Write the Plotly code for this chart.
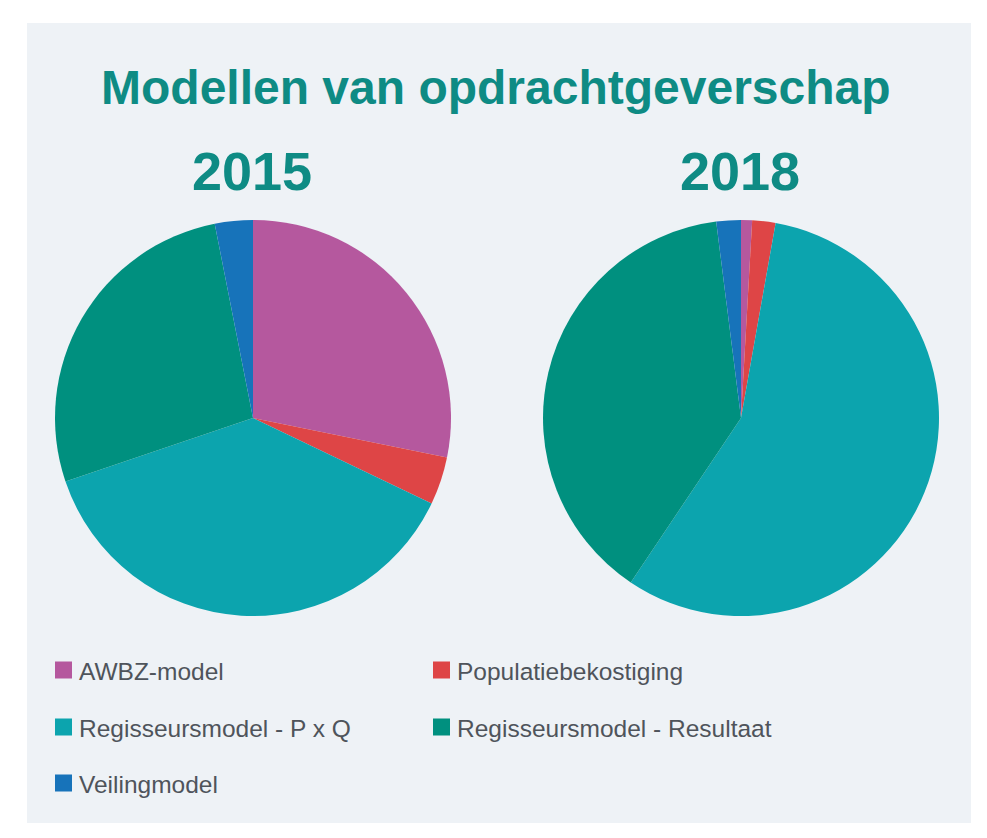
import plotly.graph_objects as go

# Data
labels = ["AWBZ-model", "Populatiebekostiging", "Regisseursmodel - P x Q",
          "Regisseursmodel - Resultaat", "Veilingmodel"]
values_2015 = [28.2, 3.9, 37.7, 27.1, 3.1]
values_2018 = [0.9, 1.9, 56.6, 38.6, 2.0]
years = ["2015", "2018"]
colors = ["#B5589E", "#DE4546", "#0CA4AE", "#00907F", "#1773BA"]

OFF = 8  # page body margin
W, H = 987 - 2 * OFF, 838 - 2 * OFF
TEAL = "#0E8B84"
TEXT = "#4F545B"
FONT = "Liberation Sans, Arial, sans-serif"

def px_x(x):
    return (x - OFF) / W

def px_y(y):
    return 1 - (y - OFF) / H

fig = go.Figure()

pie_centers = [253, 741]
R = 198
cy = 418
for yr, vals, cx in zip(years, [values_2015, values_2018], pie_centers):
    fig.add_trace(go.Pie(
        labels=labels, values=vals, name=yr,
        sort=False, direction="clockwise", rotation=0,
        marker=dict(colors=colors, line=dict(width=0)),
        textinfo="none", hoverinfo="label+percent",
        showlegend=False,
        domain=dict(x=[px_x(cx - R), px_x(cx + R)],
                    y=[px_y(cy + R), px_y(cy - R)]),
    ))

shapes = [dict(type="rect", xref="paper", yref="paper",
               x0=px_x(27), x1=px_x(971), y0=px_y(823), y1=px_y(23),
               fillcolor="#EEF2F6", line=dict(width=0), layer="below")]

annotations = [
    dict(text="<b>Modellen van opdrachtgeverschap</b>", x=px_x(496), y=px_y(87),
         xref="paper", yref="paper", xanchor="center", yanchor="middle",
         showarrow=False, font=dict(family=FONT, size=48, color=TEAL)),
]
for yr, cx in zip(years, pie_centers):
    annotations.append(dict(text="<b>%s</b>" % yr, x=px_x(cx - 1), y=px_y(171),
                            xref="paper", yref="paper", xanchor="center", yanchor="middle",
                            showarrow=False, font=dict(family=FONT, size=54, color=TEAL)))

# Manual two-column legend
col_x = [55, 433]
row_y = [670, 727, 783]
sq = 17
for i, (lab, col) in enumerate(zip(labels, colors)):
    x0 = col_x[i % 2]
    yc = row_y[i // 2]
    shapes.append(dict(type="rect", xref="paper", yref="paper",
                       x0=px_x(x0), x1=px_x(x0 + sq),
                       y0=px_y(yc + sq / 2), y1=px_y(yc - sq / 2),
                       fillcolor=col, line=dict(width=0)))
    annotations.append(dict(text=lab, x=px_x(x0 + sq + 5), y=px_y(yc + 1),
                            xref="paper", yref="paper", xanchor="left", yanchor="middle",
                            showarrow=False, font=dict(family=FONT, size=24.5, color=TEXT)))

fig.update_layout(
    width=W, height=H,
    margin=dict(l=0, r=0, t=0, b=0),
    paper_bgcolor="white", plot_bgcolor="white",
    shapes=shapes, annotations=annotations,
    showlegend=False,
)

fig.write_html("out.html")
